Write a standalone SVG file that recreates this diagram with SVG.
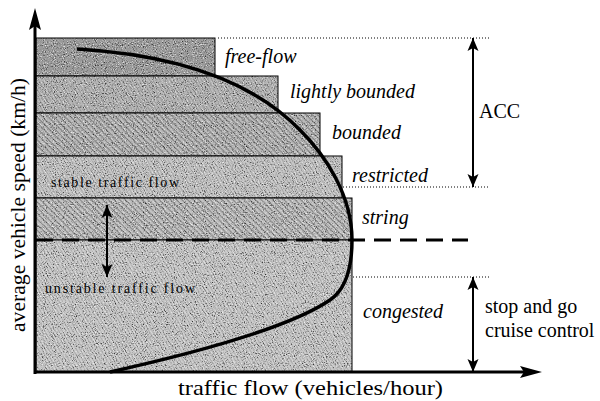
<svg xmlns="http://www.w3.org/2000/svg" width="600" height="401" viewBox="0 0 600 401">
  <style>
    text { font-family: "Liberation Serif", "Times New Roman", Tinos, "DejaVu Serif", "Noto Serif", serif; font-size: 20px; fill: #000; }
    .it { font-style: italic; }
    .sm { font-size: 14px; }
    .ax { font-size: 22px; }
    .band { stroke: #000; stroke-width: 1; }
    .dot { stroke: #000; stroke-width: 1; stroke-dasharray: 1 2; fill: none; }
    .dbl { stroke: #000; stroke-width: 2; fill: none; marker-start: url(#head); marker-end: url(#head); }
  </style>
  <defs>
    <marker id="head" markerUnits="userSpaceOnUse" viewBox="0 -7 15 14" markerWidth="15" markerHeight="14" refX="13" refY="0" orient="auto-start-reverse">
      <path d="M0,-5.5 L13,0 L0,5.5 L3,0 z" fill="#000"/>
    </marker>
    <!-- fine diagonal hatching used for the hatched bands -->
    <pattern id="hatch" width="4" height="4" patternUnits="userSpaceOnUse" patternTransform="rotate(45)">
      <rect width="4" height="1.2" fill="#000" fill-opacity="0.3"/>
    </pattern>
    <pattern id="hatchFine" width="3" height="3" patternUnits="userSpaceOnUse" patternTransform="rotate(60)">
      <rect width="3" height="1" fill="#000" fill-opacity="0.15"/>
    </pattern>
    <!-- stipple grain kept inside the filled shape -->
    <filter id="grain" x="0" y="0" width="100%" height="100%" color-interpolation-filters="sRGB">
      <feTurbulence type="fractalNoise" baseFrequency="0.9" numOctaves="2" seed="7" result="n"/>
      <feColorMatrix in="n" type="matrix" values="0 0 0 0 0  0 0 0 0 0  0 0 0 0 0  2.5 0 0 0 -1.4" result="dark"/>
      <feColorMatrix in="n" type="matrix" values="0 0 0 0 1  0 0 0 0 1  0 0 0 0 1  -2.5 0 0 0 1.15" result="light"/>
      <feComposite in="dark" in2="SourceGraphic" operator="in" result="darkIn"/>
      <feComposite in="light" in2="SourceGraphic" operator="in" result="lightIn"/>
      <feMerge>
        <feMergeNode in="SourceGraphic"/>
        <feMergeNode in="lightIn"/>
        <feMergeNode in="darkIn"/>
      </feMerge>
    </filter>
  </defs>

  <rect width="600" height="401" fill="#fff"/>

  <!-- speed bands, stacked from the top -->
  <g id="band-free-flow">
    <rect x="36" y="38" width="179" height="38" fill="#999" filter="url(#grain)"/>
    <rect class="band" x="36" y="38" width="179" height="38" fill="none"/>
    <text class="it" x="225" y="63">free-flow</text>
  </g>
  <g id="band-lightly-bounded">
    <rect x="36" y="76" width="242" height="37" fill="#b6b6b6" filter="url(#grain)"/>
    <rect x="36" y="76" width="242" height="37" fill="url(#hatchFine)"/>
    <rect class="band" x="36" y="76" width="242" height="37" fill="none"/>
    <text class="it" x="290" y="98">lightly bounded</text>
  </g>
  <g id="band-bounded">
    <rect x="36" y="113" width="284" height="43" fill="#bababa" filter="url(#grain)"/>
    <rect x="36" y="113" width="284" height="43" fill="url(#hatch)"/>
    <rect class="band" x="36" y="113" width="284" height="43" fill="none"/>
    <text class="it" x="332" y="139">bounded</text>
  </g>
  <g id="band-restricted">
    <rect x="36" y="156" width="306" height="42" fill="#c6c6c6" filter="url(#grain)"/>
    <rect x="36" y="156" width="306" height="42" fill="url(#hatchFine)"/>
    <rect class="band" x="36" y="156" width="306" height="42" fill="none"/>
    <text class="it" x="352" y="182">restricted</text>
    <text class="sm" x="51" y="187" textLength="128" lengthAdjust="spacing">stable traffic flow</text>
  </g>
  <g id="band-string">
    <rect x="36" y="198" width="316" height="42" fill="#c2c2c2" filter="url(#grain)"/>
    <rect x="36" y="198" width="316" height="42" fill="url(#hatch)"/>
    <rect class="band" x="36" y="198" width="316" height="42" fill="none"/>
    <text class="it" x="362" y="224">string</text>
  </g>
  <g id="band-congested">
    <rect x="36" y="240" width="316" height="132" fill="#cacaca" filter="url(#grain)"/>
    <rect x="36" y="240" width="316" height="132" fill="url(#hatchFine)"/>
    <rect class="band" x="36" y="240" width="316" height="132" fill="none"/>
    <text class="it" x="363" y="318">congested</text>
    <text class="sm" x="45" y="293" textLength="150" lengthAdjust="spacing">unstable traffic flow</text>
  </g>

  <g id="connectors">
    <!-- stability boundary -->
    <line x1="36" y1="240" x2="468" y2="240" stroke="#000" stroke-width="3" stroke-dasharray="17 9"/>
    <!-- speed-flow curve -->
    <path d="M77,49 Q230,58 300,130 C325,155 352,195 352,240 Q352,285 330,300 Q280,334 110,372" fill="none" stroke="#000" stroke-width="3.5"/>
    <!-- range guides -->
    <line class="dot" x1="218" y1="38" x2="490" y2="38"/>
    <line class="dot" x1="343" y1="187" x2="490" y2="187"/>
    <line class="dot" x1="353" y1="277" x2="490" y2="277"/>
    <line class="dbl" x1="473" y1="38" x2="473" y2="187"/>
    <line class="dbl" x1="473" y1="277" x2="473" y2="372"/>
    <line class="dbl" x1="107" y1="205" x2="107" y2="277"/>
    <!-- axes -->
    <line x1="35" y1="374" x2="35" y2="26" stroke="#000" stroke-width="3"/>
    <polygon points="35,8 29,30 35,26 41,30" fill="#000"/>
    <line x1="34" y1="372" x2="524" y2="372" stroke="#000" stroke-width="3"/>
    <polygon points="542,372 520,366 524,372 520,378" fill="#000"/>
  </g>

  <g id="annotations">
    <text x="479" y="118">ACC</text>
    <text x="485" y="313">stop and go</text>
    <text x="485" y="337">cruise control</text>
    <text class="ax" x="178" y="395" textLength="265" lengthAdjust="spacingAndGlyphs">traffic flow (vehicles/hour)</text>
    <text class="ax" transform="translate(25,332) rotate(-90)" textLength="254" lengthAdjust="spacingAndGlyphs">average vehicle speed (km/h)</text>
  </g>
</svg>
